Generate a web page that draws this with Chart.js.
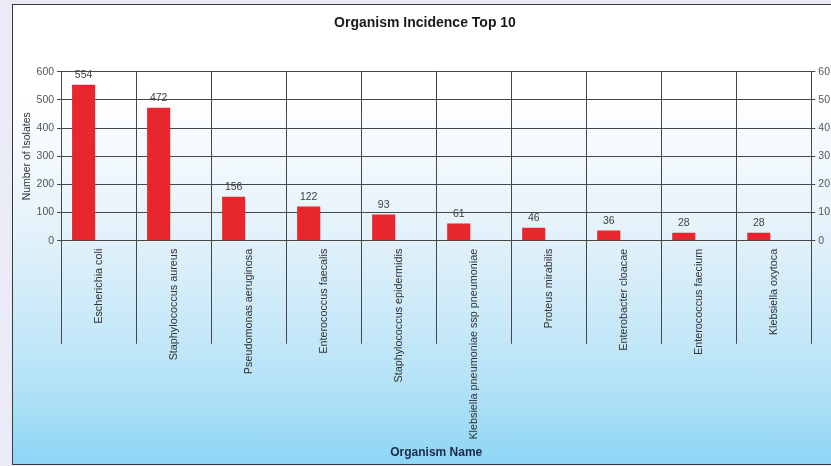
<!DOCTYPE html>
<html>
<head>
<meta charset="utf-8">
<script src="https://cdn.jsdelivr.net/npm/chart.js@4.4.1/dist/chart.umd.min.js"></script>
<style>
  html, body { margin: 0; padding: 0; width: 831px; height: 466px; overflow: hidden; background: #ebebf7; }
  #panel {
    position: absolute; left: 12px; top: 4px; width: 822px; height: 459px;
    border: 1px solid #3a3a3a;
    background: linear-gradient(to bottom, #ffffff 0%, #ffffff 20%, #e2f1fa 51%, #c2e7f8 74%, #ade0f6 86%, #8dd5f5 100%);
  }
  canvas { display: block; }
</style>
</head>
<body>
<div id="panel"><canvas id="chart" width="822" height="459"></canvas></div>
<script>
// ---- data ----
const organisms = [
    "Escherichia coli",
    "Staphylococcus aureus",
    "Pseudomonas aeruginosa",
    "Enterococcus faecalis",
    "Staphylococcus epidermidis",
    "Klebsiella pneumoniae ssp pneumoniae",
    "Proteus mirabilis",
    "Enterobacter cloacae",
    "Enterococcus faecium",
    "Klebsiella oxytoca"
];
const isolates = [554, 472, 156, 122, 93, 61, 46, 36, 28, 28];
const percentOfTotal = [];   // right-hand series, nothing plotted

const FONT = "'Liberation Sans', Arial, sans-serif";
const GRID = "#474747";

// value printed above each red bar
const barValues = {
    id: "barValues",
    afterDatasetsDraw(chart) {
        const ctx = chart.ctx;
        const meta = chart.getDatasetMeta(0);
        ctx.save();
        ctx.font = "10.5px " + FONT;
        ctx.fillStyle = "#404040";
        ctx.textAlign = "center";
        ctx.textBaseline = "bottom";
        meta.data.forEach((bar, i) => {
            ctx.fillText(String(isolates[i]), bar.x, bar.y - 4);
        });
        ctx.restore();
    }
};

// category separators, running down past the axis between the labels
const categoryLines = {
    id: "categoryLines",
    beforeDatasetsDraw(chart) {
        const ctx = chart.ctx;
        const x = chart.scales.x;
        const area = chart.chartArea;
        const n = organisms.length;
        ctx.save();
        ctx.strokeStyle = GRID;
        ctx.lineWidth = 1;
        ctx.beginPath();
        for (let i = 0; i <= n; i++) {
            const px = Math.round(x.left + x.width * i / n) + 0.5;
            ctx.moveTo(px, area.top);
            ctx.lineTo(px, area.bottom + 103);
        }
        ctx.stroke();
        ctx.restore();
    }
};

new Chart(document.getElementById("chart"), {
    type: "bar",
    data: {
        labels: organisms,
        datasets: [
            {
                label: "Number of Isolates",
                data: isolates,
                yAxisID: "y",
                backgroundColor: "#e8262d",
                categoryPercentage: 0.8,
                barPercentage: 0.77
            },
            {
                label: "Percent",
                data: percentOfTotal,
                yAxisID: "y1",
                backgroundColor: "#2f5fb0",
                categoryPercentage: 0.8,
                barPercentage: 0.77
            }
        ]
    },
    options: {
        responsive: false,
        animation: false,
        layout: { padding: { left: 4, right: 2, top: 0, bottom: 0 } },
        plugins: {
            legend: { display: false },
            tooltip: { enabled: false },
            title: {
                display: true,
                text: "Organism Incidence Top 10",
                color: "#1a1a1a",
                font: { family: FONT, size: 14, weight: "bold" },
                padding: { top: 10, bottom: 40 }
            }
        },
        scales: {
            x: {
                grid: { display: false },
                border: { display: false },
                ticks: {
                    autoSkip: false,
                    minRotation: 90,
                    maxRotation: 90,
                    padding: 0,
                    color: "#333",
                    font: { family: FONT, size: 10.8 }
                },
                title: {
                    display: true,
                    text: "Organism Name",
                    color: "#1c2a4a",
                    font: { family: FONT, size: 12, weight: "bold" },
                    padding: { top: 6, bottom: 4 }
                }
            },
            y: {
                position: "left",
                min: 0,
                max: 600,
                ticks: { stepSize: 100, padding: 3, color: "#555", font: { family: FONT, size: 10.5 } },
                grid: { color: GRID, tickLength: 4 },
                border: { display: false },
                title: {
                    display: true,
                    text: "Number of Isolates",
                    color: "#333",
                    font: { family: FONT, size: 10.5 },
                    padding: { top: 4, bottom: 0 }
                }
            },
            y1: {
                position: "right",
                min: 0,
                max: 60,
                ticks: { stepSize: 10, padding: 3, color: "#555", font: { family: FONT, size: 10.5 } },
                grid: { color: GRID, tickLength: 4, drawOnChartArea: false },
                border: { display: false }
            }
        }
    },
    plugins: [categoryLines, barValues]
});
</script>
</body>
</html>
